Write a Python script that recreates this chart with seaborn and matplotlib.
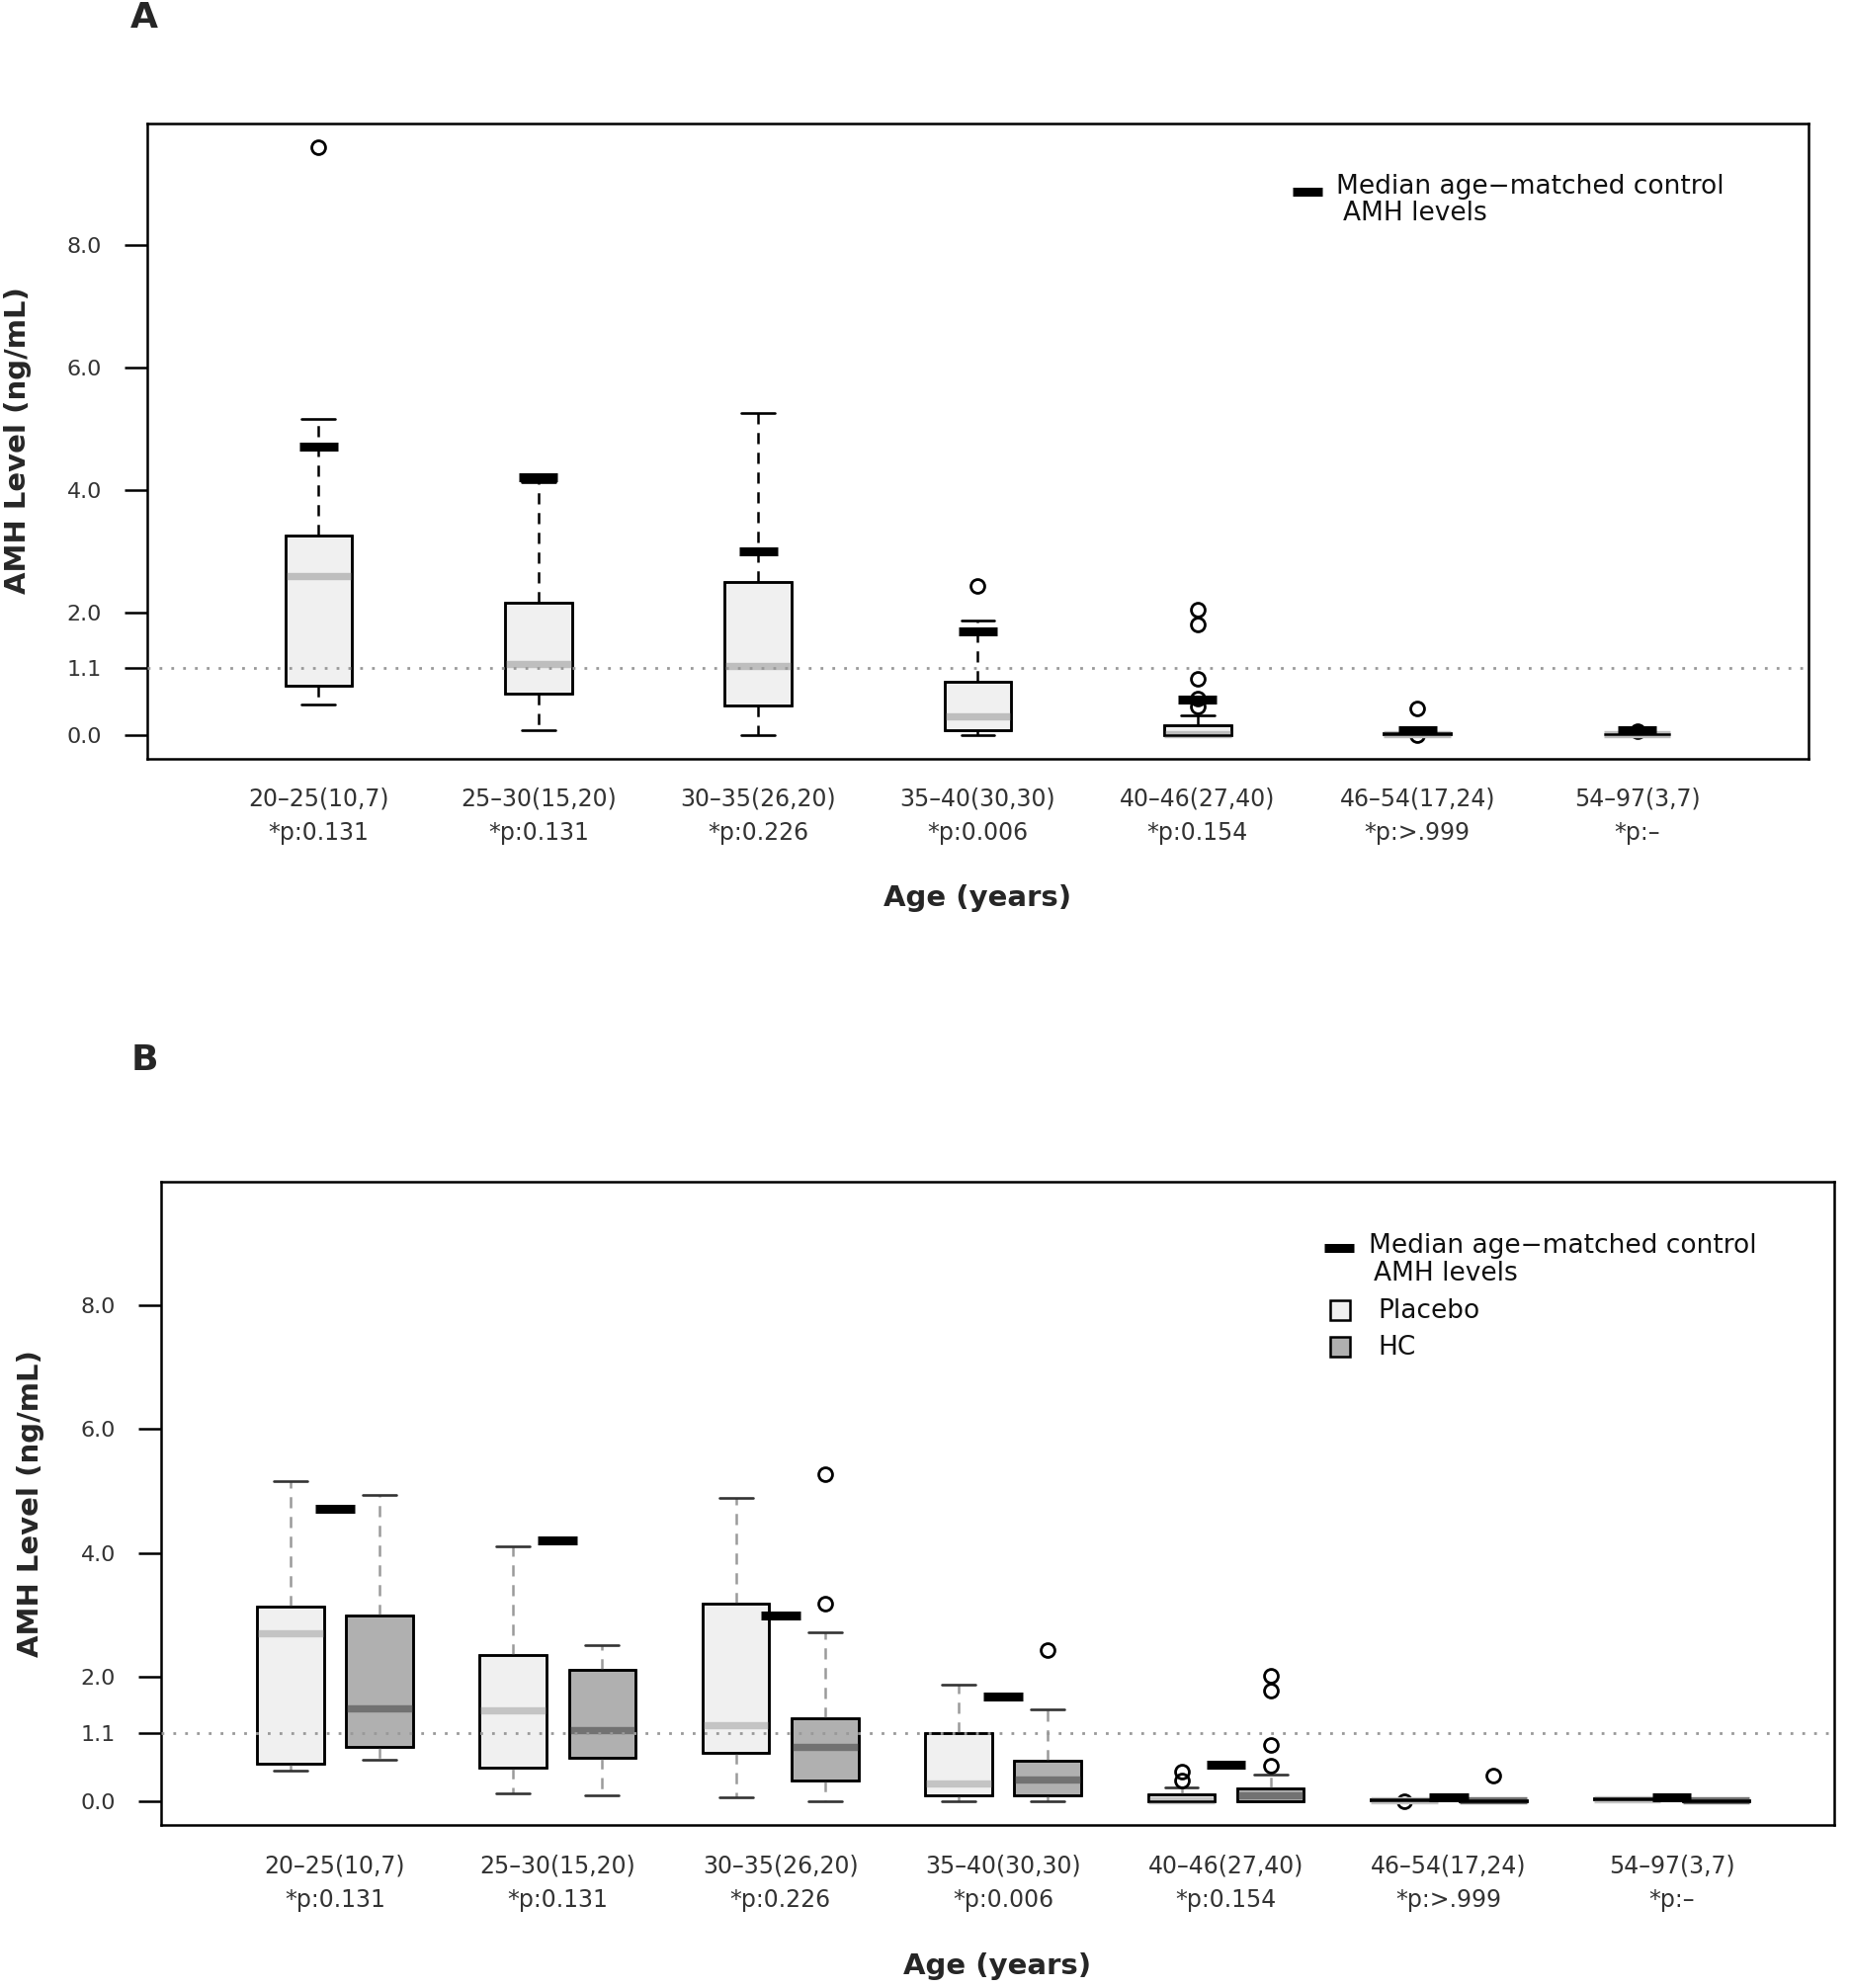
import matplotlib
matplotlib.use("Agg")
import matplotlib.pyplot as plt
from matplotlib.patches import PathPatch, Rectangle
import numpy as np
import pandas as pd
import seaborn as sns

age_groups = ["20–25(10,7)", "25–30(15,20)", "30–35(26,20)", "35–40(30,30)",
              "40–46(27,40)", "46–54(17,24)", "54–97(3,7)"]
p_labels = ["*p:0.131", "*p:0.131", "*p:0.226", "*p:0.006",
            "*p:0.154", "*p:>.999", "*p:–"]

# median AMH of the age-matched controls (same markers in both panels)
control_median = [4.71, 4.21, 3.00, 1.69, 0.58, 0.07, 0.07]

# panel A - all patients: whisker low, Q1, median, Q3, whisker high, outliers
all_low = [0.49, 0.08, 0.00, 0.00, 0.00, 0.01, 0.00]
all_q1 = [0.80, 0.68, 0.48, 0.07, 0.00, 0.02, 0.01]
all_med = [2.60, 1.16, 1.12, 0.31, 0.02, 0.02, 0.01]
all_q3 = [3.26, 2.16, 2.49, 0.86, 0.16, 0.03, 0.02]
all_high = [5.15, 4.12, 5.26, 1.87, 0.32, 0.04, 0.03]
all_out = [[9.59], [], [], [2.43], [0.46, 0.60, 0.91, 1.80, 2.04], [0.0, 0.43], [0.06]]

# panel B - placebo arm
pla_low = [0.50, 0.13, 0.06, 0.00, 0.00, 0.01, 0.02]
pla_q1 = [0.60, 0.54, 0.78, 0.10, 0.00, 0.02, 0.03]
pla_med = [2.70, 1.46, 1.23, 0.29, 0.02, 0.02, 0.03]
pla_q3 = [3.13, 2.36, 3.18, 1.10, 0.11, 0.03, 0.04]
pla_high = [5.16, 4.11, 4.89, 1.88, 0.22, 0.04, 0.05]
pla_out = [[], [], [], [], [0.33, 0.47], [0.0], []]

# panel B - HC arm
hc_low = [0.66, 0.10, 0.00, 0.00, 0.00, 0.00, 0.00]
hc_q1 = [0.88, 0.70, 0.34, 0.09, 0.00, 0.00, 0.00]
hc_med = [1.50, 1.15, 0.88, 0.35, 0.10, 0.01, 0.01]
hc_q3 = [2.99, 2.11, 1.33, 0.65, 0.21, 0.02, 0.02]
hc_high = [4.94, 2.52, 2.73, 1.48, 0.43, 0.03, 0.03]
hc_out = [[], [], [3.19, 5.27], [2.44], [0.57, 0.90, 1.79, 2.02], [0.41], []]

y_ticks = [0.0, 1.1, 2.0, 4.0, 6.0, 8.0]
y_ticklabels = ["0.0", "1.1", "2.0", "4.0", "6.0", "8.0"]


def expand(lo, q1, med, q3, hi, outs):
    """Sample whose quartiles/whiskers reproduce the read-off summary."""
    low = sorted(o for o in outs if o < q1)
    high = sorted(o for o in outs if o > q3)
    k = max(len(low), len(high)) + 1
    return (low + [lo] + [q1] * (k - len(low)) + [med] * k + [q3] * k
            + [hi] * (k - len(high)) + high)


def long_frame(lows, q1s, meds, q3s, highs, outs, arm):
    rows = []
    for g, lo, a, m, b, hi, o in zip(age_groups, lows, q1s, meds, q3s, highs, outs):
        rows += [(g, arm, v) for v in expand(lo, a, m, b, hi, o)]
    return pd.DataFrame(rows, columns=["age", "arm", "amh"])


df_all = long_frame(all_low, all_q1, all_med, all_q3, all_high, all_out, "All")
df_pla = long_frame(pla_low, pla_q1, pla_med, pla_q3, pla_high, pla_out, "Placebo")
df_hc = long_frame(hc_low, hc_q1, hc_med, hc_q3, hc_high, hc_out, "HC")

sns.set_theme(style="white")
plt.rcParams["font.family"] = ["DejaVu Sans"]

fig = plt.figure(figsize=(18.74, 20.12), dpi=100)
axA = fig.add_axes([0.0795, 0.6185, 0.897, 0.3196])
axB = fig.add_axes([0.0870, 0.0820, 0.9034, 0.3235])

flier = dict(marker="o", markerfacecolor="none", markeredgecolor="black",
             markeredgewidth=2)
dash = (0, (4.5, 3.5))

sns.boxplot(data=df_all, x="age", y="amh", order=age_groups, color="#F0F0F0",
            saturation=1, width=0.305, linecolor="black", linewidth=1.8,
            fliersize=10, flierprops=flier,
            whiskerprops=dict(color="black", linestyle=dash, linewidth=1.8),
            capprops=dict(color="black", linewidth=1.9),
            medianprops=dict(color="#BEBEBE", linewidth=5.3, solid_capstyle="butt"),
            ax=axA)

arm_colors = {"Placebo": "#F0F0F0", "HC": "#B0B0B0"}
for df, med_col in [(df_pla, "#C4C4C4"), (df_hc, "#727272")]:
    sns.boxplot(data=df, x="age", y="amh", hue="arm", order=age_groups,
                hue_order=["Placebo", "HC"], palette=arm_colors, saturation=1,
                dodge=True, width=0.8, gap=0.25, linecolor="black", linewidth=1.8,
                fliersize=10, flierprops=flier,
                whiskerprops=dict(color="#9A9A9A", linestyle=dash, linewidth=1.8),
                capprops=dict(color="#333333", linewidth=1.9),
                medianprops=dict(color=med_col, linewidth=5.3, solid_capstyle="butt"),
                legend=False, ax=axB)

pos = np.arange(len(age_groups))
xlims = {axA: (-0.78, 6.78), axB: (-0.78, 6.73)}
for ax in (axA, axB):
    # box outlines redrawn above the thick median bands
    for p in list(ax.patches):
        ax.add_patch(PathPatch(p.get_path(), transform=p.get_transform(),
                               facecolor="none", edgecolor="black",
                               linewidth=1.8, zorder=3.5))
    ax.axhline(1.1, color="#999999", linestyle=(0, (1, 3.3)), linewidth=2, zorder=4)
    ax.hlines(control_median, pos - 0.088, pos + 0.088, color="black",
              linewidth=6.5, zorder=6)
    ax.set_xlim(*xlims[ax])
    ax.set_ylim(-0.384, 9.984)
    ax.set_yticks(y_ticks)
    ax.set_yticklabels(y_ticklabels)
    ax.set_xticks(pos)
    ax.set_xticklabels([f"{g}\n{p}" for g, p in zip(age_groups, p_labels)],
                       linespacing=1.55)
    ax.tick_params(axis="x", length=0, pad=21, labelsize=17, labelcolor="#333333")
    ax.tick_params(axis="y", length=16.5, width=1.8, pad=16.5, labelsize=16,
                   labelcolor="#333333", color="black", left=True)
    for s in ax.spines.values():
        s.set_color("black")
        s.set_linewidth(1.8)
    ax.set_xlabel("Age (years)", fontsize=21, fontweight="bold", va="center")
    ax.xaxis.set_label_coords(0.5, -0.22)
    ax.set_ylabel("AMH Level (ng/mL)", fontsize=21, fontweight="bold", va="center")
    ax.yaxis.set_label_coords(-0.078, 0.5)

# hand-made legends, placed like the R legend() boxes
leg_font = dict(fontsize=19, color="#111111", va="center", ha="left")
axA.plot([0.6895, 0.7076], [0.8926, 0.8926], transform=axA.transAxes,
         color="black", linewidth=6.5, solid_capstyle="butt")
axA.text(0.7158, 0.899, "Median age−matched control", transform=axA.transAxes, **leg_font)
axA.text(0.7196, 0.858, "AMH levels", transform=axA.transAxes, **leg_font)

axB.plot([0.6951, 0.7131], [0.897, 0.897], transform=axB.transAxes,
         color="black", linewidth=6.5, solid_capstyle="butt")
axB.text(0.7216, 0.901, "Median age−matched control", transform=axB.transAxes, **leg_font)
axB.text(0.7247, 0.857, "AMH levels", transform=axB.transAxes, **leg_font)
sq_w, sq_h = 20 / 1693, 20 / 650.8
for arm, yc in [("Placebo", 0.800), ("HC", 0.7434)]:
    axB.add_patch(Rectangle((0.7044 - sq_w / 2, yc - sq_h / 2), sq_w, sq_h,
                            transform=axB.transAxes, facecolor=arm_colors[arm],
                            edgecolor="black", linewidth=1.8, clip_on=False))
    axB.text(0.7274, yc - 0.0015, arm, transform=axB.transAxes, **leg_font)

fig.text(146 / 1874, 1 - 18 / 2012, "A", fontsize=26, fontweight="bold",
         ha="center", va="center")
fig.text(146 / 1874, 1 - 1073 / 2012, "B", fontsize=26, fontweight="bold",
         ha="center", va="center")

fig.savefig("out.png", dpi=100)
plt.close(fig)
